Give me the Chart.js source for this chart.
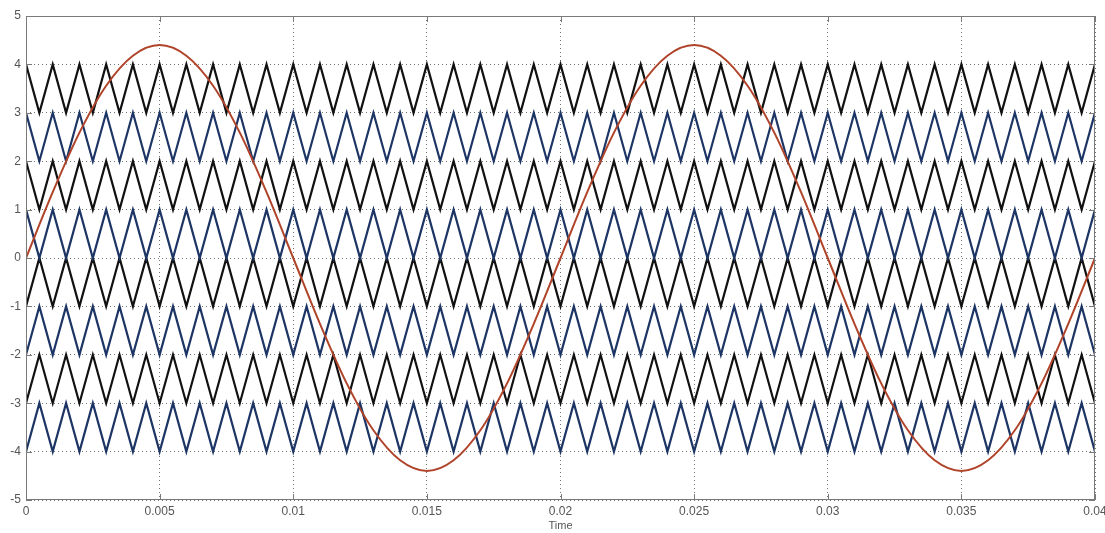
<!DOCTYPE html>
<html>
<head>
<meta charset="utf-8">
<script src="https://cdn.jsdelivr.net/npm/chart.js@4.4.0/dist/chart.umd.min.js"></script>
<style>
    html, body { margin: 0; padding: 0; background: #fff; }
    #wrap { width: 1105px; height: 533px; }
</style>
</head>
<body>
<div id="wrap"><canvas id="chart-pwm"></canvas></div>
<script>
// reference sine, read every 0.001 s
const sineTimes = [
    0, 0.001, 0.002, 0.003, 0.004, 0.005, 0.006, 0.007, 0.008, 0.009,
    0.010, 0.011, 0.012, 0.013, 0.014, 0.015, 0.016, 0.017, 0.018, 0.019,
    0.020, 0.021, 0.022, 0.023, 0.024, 0.025, 0.026, 0.027, 0.028, 0.029,
    0.030, 0.031, 0.032, 0.033, 0.034, 0.035, 0.036, 0.037, 0.038, 0.039, 0.040
];
const sineValues = [
    0, 1.36, 2.59, 3.56, 4.18, 4.4, 4.18, 3.56, 2.59, 1.36,
    0, -1.36, -2.59, -3.56, -4.18, -4.4, -4.18, -3.56, -2.59, -1.36,
    0, 1.36, 2.59, 3.56, 4.18, 4.4, 4.18, 3.56, 2.59, 1.36,
    0, -1.36, -2.59, -3.56, -4.18, -4.4, -4.18, -3.56, -2.59, -1.36, 0
];

// carriers: band limits, value at t=0 ("top" or "bottom")
const carrierLow  = [3, 2, 1, 0, -1, -2, -3, -4];
const carrierHigh = [4, 3, 2, 1, 0, -1, -2, -3];
const carrierStart = ["top", "top", "top", "top", "bottom", "bottom", "bottom", "bottom"];
const carrierColors = ["#111111", "#1d3565", "#111111", "#1d3565", "#111111", "#1d3565", "#111111", "#1d3565"];
const carrierHalfPeriod = 0.0005;
const tEnd = 0.04;

const xTicks = [0, 0.005, 0.01, 0.015, 0.02, 0.025, 0.03, 0.035, 0.04];
const xTickLabels = ["0", "0.005", "0.01", "0.015", "0.02", "0.025", "0.03", "0.035", "0.04"];
const yTicks = [-5, -4, -3, -2, -1, 0, 1, 2, 3, 4, 5];

function carrierPoints(i) {
    let pts = [];
    let n = Math.round(tEnd / carrierHalfPeriod);
    for (let k = 0; k <= n; k++) {
        let atTop = (k % 2 === 0) === (carrierStart[i] === "top");
        pts.push({ x: k * carrierHalfPeriod, y: atTop ? carrierHigh[i] : carrierLow[i] });
    }
    return pts;
}

let datasets = [{
    label: "sine",
    data: sineTimes.map((t, i) => ({ x: t, y: sineValues[i] })),
    borderColor: "#b0442a",
    borderWidth: 2,
    pointRadius: 0,
    cubicInterpolationMode: "monotone",
    order: 0
}];
carrierLow.forEach((lo, i) => {
    datasets.push({
        label: "carrier " + (i + 1),
        data: carrierPoints(i),
        borderColor: carrierColors[i],
        borderWidth: 2.2,
        pointRadius: 0,
        tension: 0,
        order: 1
    });
});

// frame + inward tick marks, matlab style
const framePlugin = {
    id: "frame",
    afterDatasetsDraw(chart) {
        const ctx = chart.ctx;
        const a = chart.chartArea;
        const xs = chart.scales.x, ys = chart.scales.y;
        ctx.save();
        ctx.strokeStyle = "#7a7a7a";
        ctx.lineWidth = 1;
        ctx.strokeRect(a.left + 0.5, a.top + 0.5, a.right - a.left - 1, a.bottom - a.top - 1);
        ctx.beginPath();
        xTicks.forEach(v => {
            let px = Math.round(xs.getPixelForValue(v)) + 0.5;
            ctx.moveTo(px, a.bottom); ctx.lineTo(px, a.bottom - 6);
            ctx.moveTo(px, a.top); ctx.lineTo(px, a.top + 6);
        });
        yTicks.forEach(v => {
            let py = Math.round(ys.getPixelForValue(v)) + 0.5;
            ctx.moveTo(a.left, py); ctx.lineTo(a.left + 6, py);
            ctx.moveTo(a.right, py); ctx.lineTo(a.right - 6, py);
        });
        ctx.stroke();
        ctx.restore();
    }
};

const tickFont = { family: "Liberation Sans, Arial, sans-serif", size: 12 };

new Chart(document.getElementById("chart-pwm"), {
    type: "line",
    data: { datasets: datasets },
    plugins: [framePlugin],
    options: {
        responsive: true,
        maintainAspectRatio: false,
        animation: false,
        plugins: { legend: { display: false }, tooltip: { enabled: false } },
        layout: { autoPadding: false, padding: { top: 16, right: 10, left: 0, bottom: 0 } },
        scales: {
            x: {
                type: "linear",
                min: 0,
                max: tEnd,
                afterFit: s => { s.height = 33; s.paddingLeft = 0; s.paddingRight = 0; },
                afterBuildTicks: s => { s.ticks = xTicks.map(v => ({ value: v })); },
                ticks: {
                    autoSkip: false,
                    maxRotation: 0,
                    padding: 4,
                    color: "#555",
                    font: tickFont,
                    callback: (v) => xTickLabels[xTicks.indexOf(v)]
                },
                grid: {
                    color: "rgba(0,0,0,0.55)",
                    lineWidth: 1,
                    drawTicks: false
                },
                border: { display: false, dash: [1, 3] },
                title: {
                    display: true,
                    text: "Time",
                    color: "#555",
                    font: { family: "Liberation Sans, Arial, sans-serif", size: 11 },
                    padding: { top: 0, bottom: 0 }
                }
            },
            y: {
                min: -5,
                max: 5,
                afterFit: s => { s.width = 26; s.paddingTop = 0; s.paddingBottom = 0; },
                afterBuildTicks: s => { s.ticks = yTicks.map(v => ({ value: v })); },
                ticks: {
                    padding: 5,
                    color: "#555",
                    font: tickFont
                },
                grid: {
                    color: "rgba(0,0,0,0.55)",
                    lineWidth: 1,
                    drawTicks: false
                },
                border: { display: false, dash: [1, 3] }
            }
        }
    }
});
</script>
</body>
</html>
